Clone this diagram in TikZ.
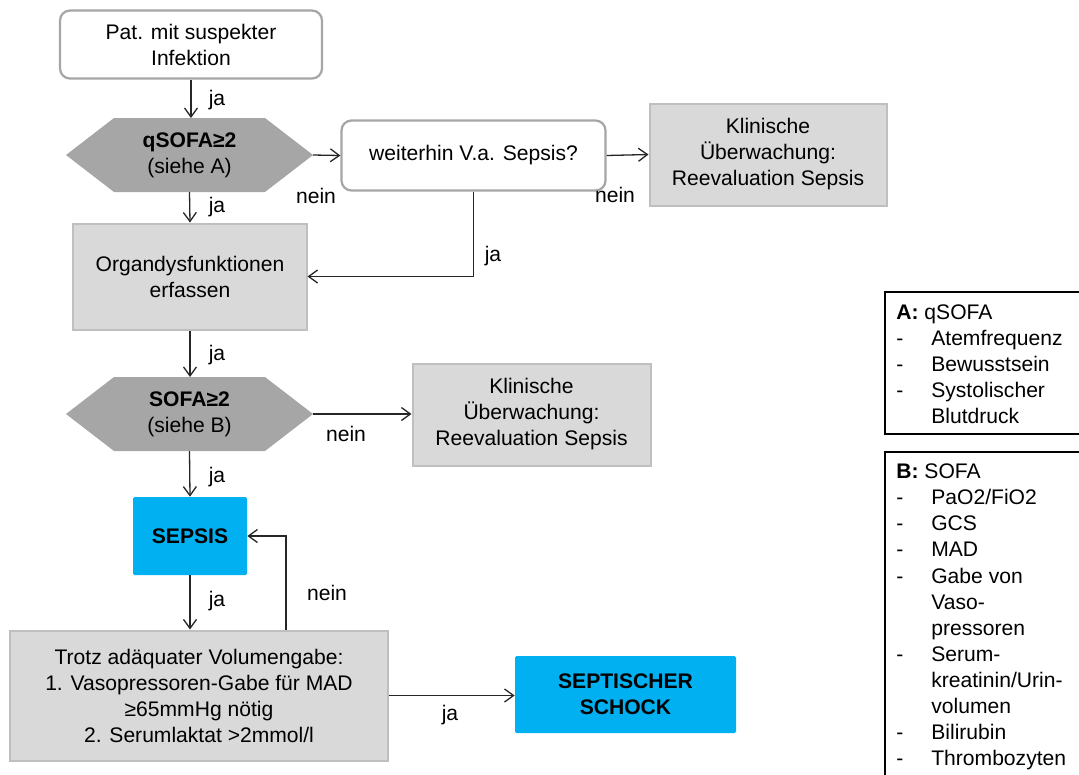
\documentclass[tikz,border=0pt]{standalone}
\usepackage{fontspec}
\setmainfont{Liberation Sans}
\usetikzlibrary{arrows.meta, positioning}

\definecolor{rahmengrau}{HTML}{A6A6A6}
\definecolor{hexgrau}{HTML}{A6A6A6}
\definecolor{boxgrau}{HTML}{D9D9D9}
\definecolor{boxrand}{HTML}{BFBFBF}
\definecolor{sepsisblau}{HTML}{00B0F0}
\definecolor{linie}{HTML}{262626}

\tikzset{
  txt/.style={font=\fontsize{12}{14.8}\selectfont, align=center, text=black},
  frage/.style={txt, draw=rahmengrau, line width=0.45mm, fill=white, rounded corners=2mm},
  pruef/.style={txt, fill=boxgrau, draw=boxrand, line width=0.4mm},
  hexa/.style={txt, inner sep=0pt, outer sep=0pt, minimum width=49.4mm, minimum height=14.8mm,
    path picture={\fill[hexgrau] (path picture bounding box.west)
      -- ([xshift=9.6mm]path picture bounding box.north west)
      -- ([xshift=-9.6mm]path picture bounding box.north east)
      -- (path picture bounding box.east)
      -- ([xshift=-9.6mm]path picture bounding box.south east)
      -- ([xshift=9.6mm]path picture bounding box.south west) -- cycle;}},
  diag/.style={txt, fill=sepsisblau, rounded corners=0.3mm, font=\fontsize{12}{14.8}\selectfont\bfseries},
  pfeil/.style={draw=linie, line width=0.26mm, -{Straight Barb[length=1.8mm,width=2.6mm]}},
  lbl/.style={txt, inner sep=0pt},
  legende/.style={txt, align=left, anchor=north west, inner sep=0pt},
}

\begin{document}
\begin{tikzpicture}[x=0.2mm, y=-0.2mm]
  \useasboundingbox (0,0) rectangle (1079,774);
  \clip (0,0) rectangle (1079,774);

  % Einstieg, qSOFA
  \node[frage, minimum width=52.4mm, minimum height=13.6mm] (start) at (191,44.5) {Pat. mit suspekter\\Infektion};
  \node[hexa] (qsofa) at (189.5,155) {\textbf{qSOFA≥2}\\(siehe A)};
  \node[frage, minimum width=52.8mm, minimum height=14mm] (verdacht) at (473.5,155.5) {weiterhin V.a. Sepsis?};
  \node[pruef, minimum width=47.4mm, minimum height=20.4mm] (klin1) at (768,154.5) {Klinische\\Überwachung:\\Reevaluation Sepsis};

  % Organdysfunktion, SOFA
  \node[pruef, minimum width=46.6mm, minimum height=21.2mm] (organ) at (190,276.5) {Organdysfunktionen\\erfassen};
  \node[hexa] (sofa) at (189.5,414) {\textbf{SOFA≥2}\\(siehe B)};
  \node[pruef, minimum width=47.6mm, minimum height=20.4mm] (klin2) at (531.5,414.5) {Klinische\\Überwachung:\\Reevaluation Sepsis};

  % Sepsis, Schock
  \node[diag, minimum width=22.8mm, minimum height=15.6mm] (sepsis) at (190,536) {SEPSIS};
  \node[pruef, minimum width=75.4mm, minimum height=26mm] (trotz) at (199,695.5) {Trotz adäquater Volumengabe:\\1. Vasopressoren-Gabe für MAD\\≥65mmHg nötig\\2. Serumlaktat >2mmol/l};
  \node[diag, minimum width=44.2mm, minimum height=15.4mm] (schock) at (625.5,694.5) {SEPTISCHER\\SCHOCK};

  % Pfeile
  \draw[pfeil] (start.south) -- (start.south |- qsofa.north);
  \draw[pfeil] (qsofa.east) -- (verdacht.west);
  \draw[pfeil] (verdacht.east) -- (klin1.west);
  \draw[pfeil] (qsofa.south) -- (organ.north);
  \draw[pfeil] (verdacht.south) |- (organ.east);
  \draw[pfeil] (organ.south) -- (organ.south |- sofa.north);
  \draw[pfeil] (sofa.east) -- (sofa.east -| klin2.west);
  \draw[pfeil] (sofa.south) -- (sepsis.north);
  \draw[pfeil] (sepsis.south) -- (sepsis.south |- trotz.north);
  \draw[pfeil] ([xshift=17.4mm]trotz.north) |- (sepsis.east);
  \draw[pfeil] (trotz.east) -- (trotz.east -| schock.west);

  % ja / nein
  \node[lbl] (ja1) at (217,100) {ja};
  \node[lbl] (ja2) at (217,207) {ja};
  \node[lbl] (nein1) at (316,196) {nein};
  \node[lbl] (nein2) at (615,195) {nein};
  \node[lbl] (ja3) at (493,256) {ja};
  \node[lbl] (ja4) at (217,355) {ja};
  \node[lbl] (nein3) at (346,434) {nein};
  \node[lbl] (ja5) at (217,477) {ja};
  \node[lbl] (ja6) at (217,601) {ja};
  \node[lbl] (nein4) at (327,593) {nein};
  \node[lbl] (ja7) at (450,715) {ja};

  % Legende A, B
  \draw[draw=black, line width=0.26mm] (885,292) rectangle (1100,434);
  \draw[draw=black, line width=0.26mm] (885,452) rectangle (1100,800);
  \node[legende] (legA) at (896,301) {\begin{tabular}{@{}p{7mm}@{}l@{}}
    \multicolumn{2}{@{}l@{}}{\textbf{A:} qSOFA}\\
    - & Atemfrequenz\\
    - & Bewusstsein\\
    - & Systolischer\\
      & Blutdruck
  \end{tabular}};
  \node[legende] (legB) at (896,460.4) {\begin{tabular}{@{}p{7mm}@{}l@{}}
    \multicolumn{2}{@{}l@{}}{\textbf{B:} SOFA}\\
    - & PaO2/FiO2\\
    - & GCS\\
    - & MAD\\
    - & Gabe von\\
      & Vaso-\\
      & pressoren\\
    - & Serum-\\
      & kreatinin/Urin-\\
      & volumen\\
    - & Bilirubin\\
    - & Thrombozyten
  \end{tabular}};
\end{tikzpicture}
\end{document}
